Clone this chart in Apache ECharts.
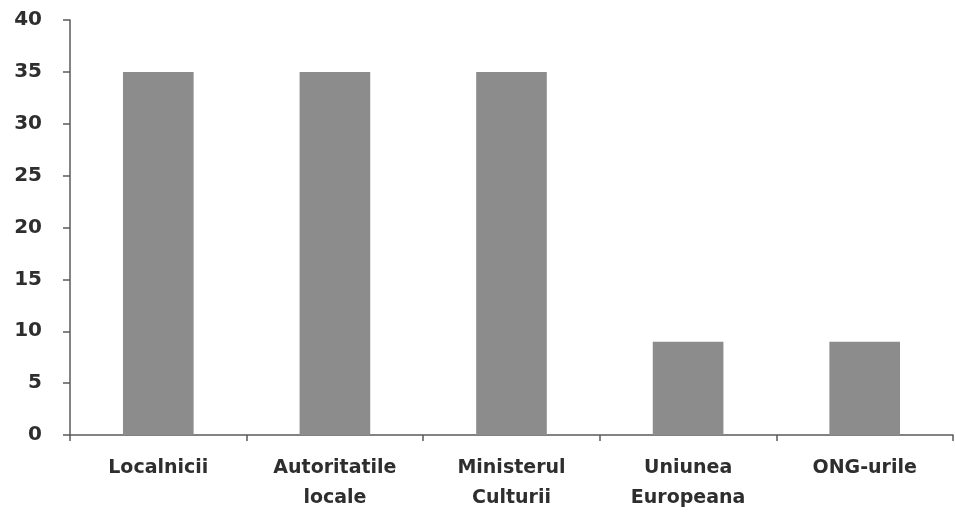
<!DOCTYPE html>
<html>
<head>
<meta charset="utf-8">
<style>
  html, body { margin: 0; padding: 0; background: #ffffff; }
  #chart { width: 955px; height: 513px; }
</style>
<script src="https://cdn.jsdelivr.net/npm/echarts@6/dist/echarts.min.js"></script>
</head>
<body>
<div id="chart"></div>
<script>
// Categories and values for the bar chart
const categories = ['Localnicii', 'Autoritatile\nlocale', 'Ministerul\nCulturii', 'Uniunea\nEuropeana', 'ONG-urile'];
const values = [35, 35, 35, 9, 9];
const yTicks = [0, 5, 10, 15, 20, 25, 30, 35, 40];

const chart = echarts.init(document.getElementById('chart'), null, { renderer: 'canvas' });

const axisColor = '#5a5a5a';
const textStyle = {
  color: '#2e2e2e',
  fontFamily: 'DejaVu Sans',
  fontWeight: 'bold',
  fontSize: 19
};

chart.setOption({
  animation: false,
  backgroundColor: '#ffffff',
  grid: { left: 70, right: 2, top: 20, bottom: 73, containLabel: false },
  xAxis: {
    type: 'category',
    data: categories,
    axisLine: { show: true, lineStyle: { color: axisColor, width: 1.5 } },
    axisTick: { show: true, alignWithLabel: false, length: 6, lineStyle: { color: axisColor, width: 1.5 } },
    axisLabel: Object.assign({}, textStyle, { margin: 18, lineHeight: 30, interval: 0 }),
    splitLine: { show: false }
  },
  yAxis: {
    type: 'value',
    min: yTicks[0],
    max: yTicks[yTicks.length - 1],
    interval: yTicks[1] - yTicks[0],
    axisLine: { show: true, lineStyle: { color: axisColor, width: 1.5 } },
    axisTick: { show: true, length: 7, lineStyle: { color: axisColor, width: 1.5 } },
    axisLabel: Object.assign({}, textStyle, { margin: 28, fontSize: 20 }),
    splitLine: { show: false }
  },
  series: [{
    type: 'bar',
    data: values,
    barWidth: '40%',
    itemStyle: { color: '#8c8c8c' }
  }]
});
</script>
</body>
</html>
